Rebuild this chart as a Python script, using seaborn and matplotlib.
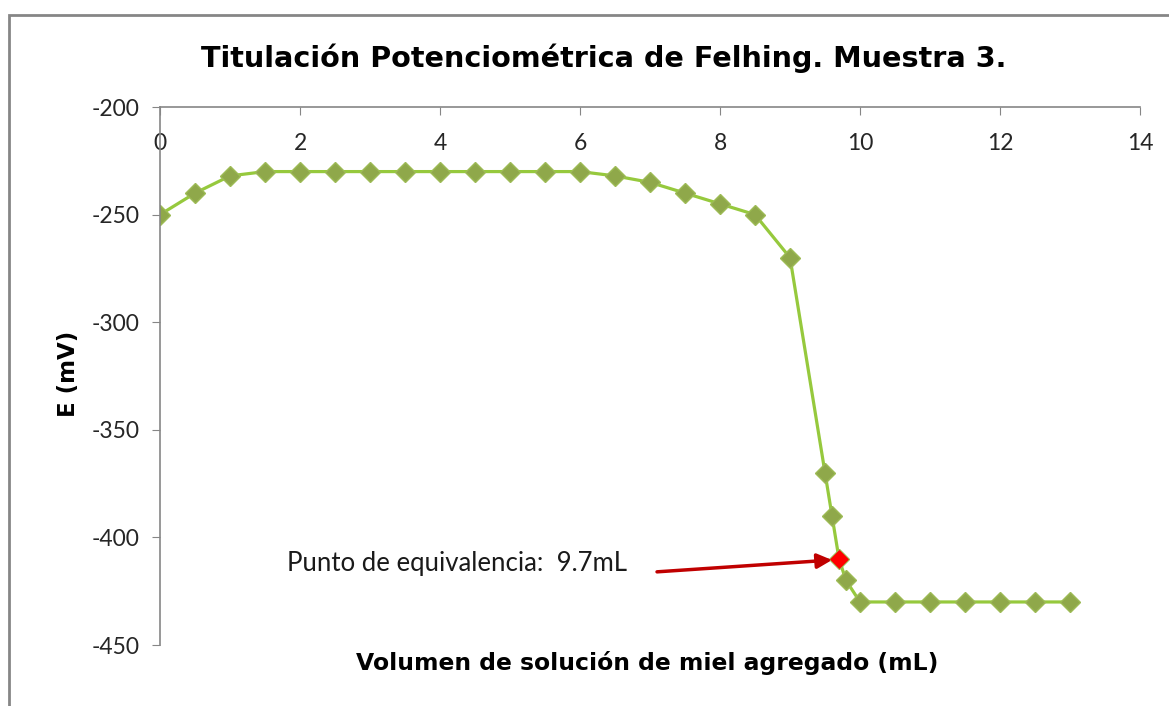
import numpy as np
import pandas as pd
import seaborn as sns
import matplotlib.pyplot as plt
from matplotlib.patches import Rectangle

# datos de la titulación (muestra 3)
volumen = [0, 0.5, 1, 1.5, 2, 2.5, 3, 3.5, 4, 4.5, 5, 5.5, 6, 6.5, 7, 7.5, 8, 8.5,
           9, 9.5, 9.6, 9.7, 9.8, 10, 10.5, 11, 11.5, 12, 12.5, 13]
potencial = [-250, -240, -232, -230, -230, -230, -230, -230, -230, -230, -230, -230,
             -230, -232, -235, -240, -245, -250, -270, -370, -390, -410, -420, -430,
             -430, -430, -430, -430, -430, -430]
vol_eq = [9.7]
pot_eq = [-410]
xticks = [0, 2, 4, 6, 8, 10, 12, 14]
yticks = [-200, -250, -300, -350, -400, -450]

df = pd.DataFrame({'vol': volumen, 'E': potencial})
df_eq = pd.DataFrame({'vol': vol_eq, 'E': pot_eq})

sns.set_style('white')
plt.rcParams['font.family'] = ['Lato', 'DejaVu Sans']
plt.rcParams['axes.unicode_minus'] = False

fig = plt.figure(figsize=(11.69, 7.06), dpi=100)
ax = fig.add_axes([0.1369, 0.0864, 0.8383, 0.762])

sns.lineplot(data=df, x='vol', y='E', ax=ax, color='#96C93D', linewidth=2.3,
             marker='D', markersize=10.5, markerfacecolor='#8FA84A',
             markeredgecolor='#9DBB55', markeredgewidth=1)
sns.scatterplot(data=df_eq, x='vol', y='E', ax=ax, marker='D', s=80,
                color='#FF0000', edgecolor='#FF0000', zorder=5)

ax.set_xlim(0, 14)
ax.set_ylim(-450, -200)
ax.set_xticks(xticks)
ax.set_yticks(yticks)

for s in ['right', 'bottom']:
    ax.spines[s].set_visible(False)
for s in ['left', 'top']:
    ax.spines[s].set_color('#868686')
    ax.spines[s].set_linewidth(1.2)

ax.xaxis.tick_top()
ax.tick_params(axis='x', direction='in', length=6, color='#868686',
               pad=-34, labelsize=16.5, labelcolor='#262626')
ax.tick_params(axis='y', direction='out', length=6, color='#868686', left=True,
               pad=9, labelsize=16.5, labelcolor='#262626')

ax.set_xlabel('')
ax.set_ylabel('')
fig.text(0.554, 0.061, 'Volumen de solución de miel agregado (mL)', ha='center',
         va='center', fontsize=16.9, fontweight='bold', family='DejaVu Sans',
         color='black')
fig.text(0.059, 0.47, 'E (mV)', ha='center', va='center', rotation=90,
         fontsize=16.5, fontweight='bold', family='DejaVu Sans', color='black')
fig.text(0.516, 0.918, 'Titulación Potenciométrica de Felhing. Muestra 3.',
         ha='center', va='center', fontsize=20.6, fontweight='bold',
         family='DejaVu Sans', color='black')

# flecha al punto de equivalencia
ax.text(1.81, -412, 'Punto de equivalencia:  9.7mL', ha='left', va='center',
        fontsize=18.5, color='#1a1a1a')
ax.annotate('', xy=(9.6, -410.5), xytext=(7.1, -416),
            arrowprops=dict(arrowstyle='-|>', color='#C00000', lw=2.5,
                            mutation_scale=22, shrinkA=0, shrinkB=0))

fig.patches.append(Rectangle((9 / 1169, -0.05), 1.0, 1 - 15 / 706 + 0.05,
                             transform=fig.transFigure, fill=False,
                             edgecolor='#868686', linewidth=2))

fig.savefig('out.png', dpi=100)
